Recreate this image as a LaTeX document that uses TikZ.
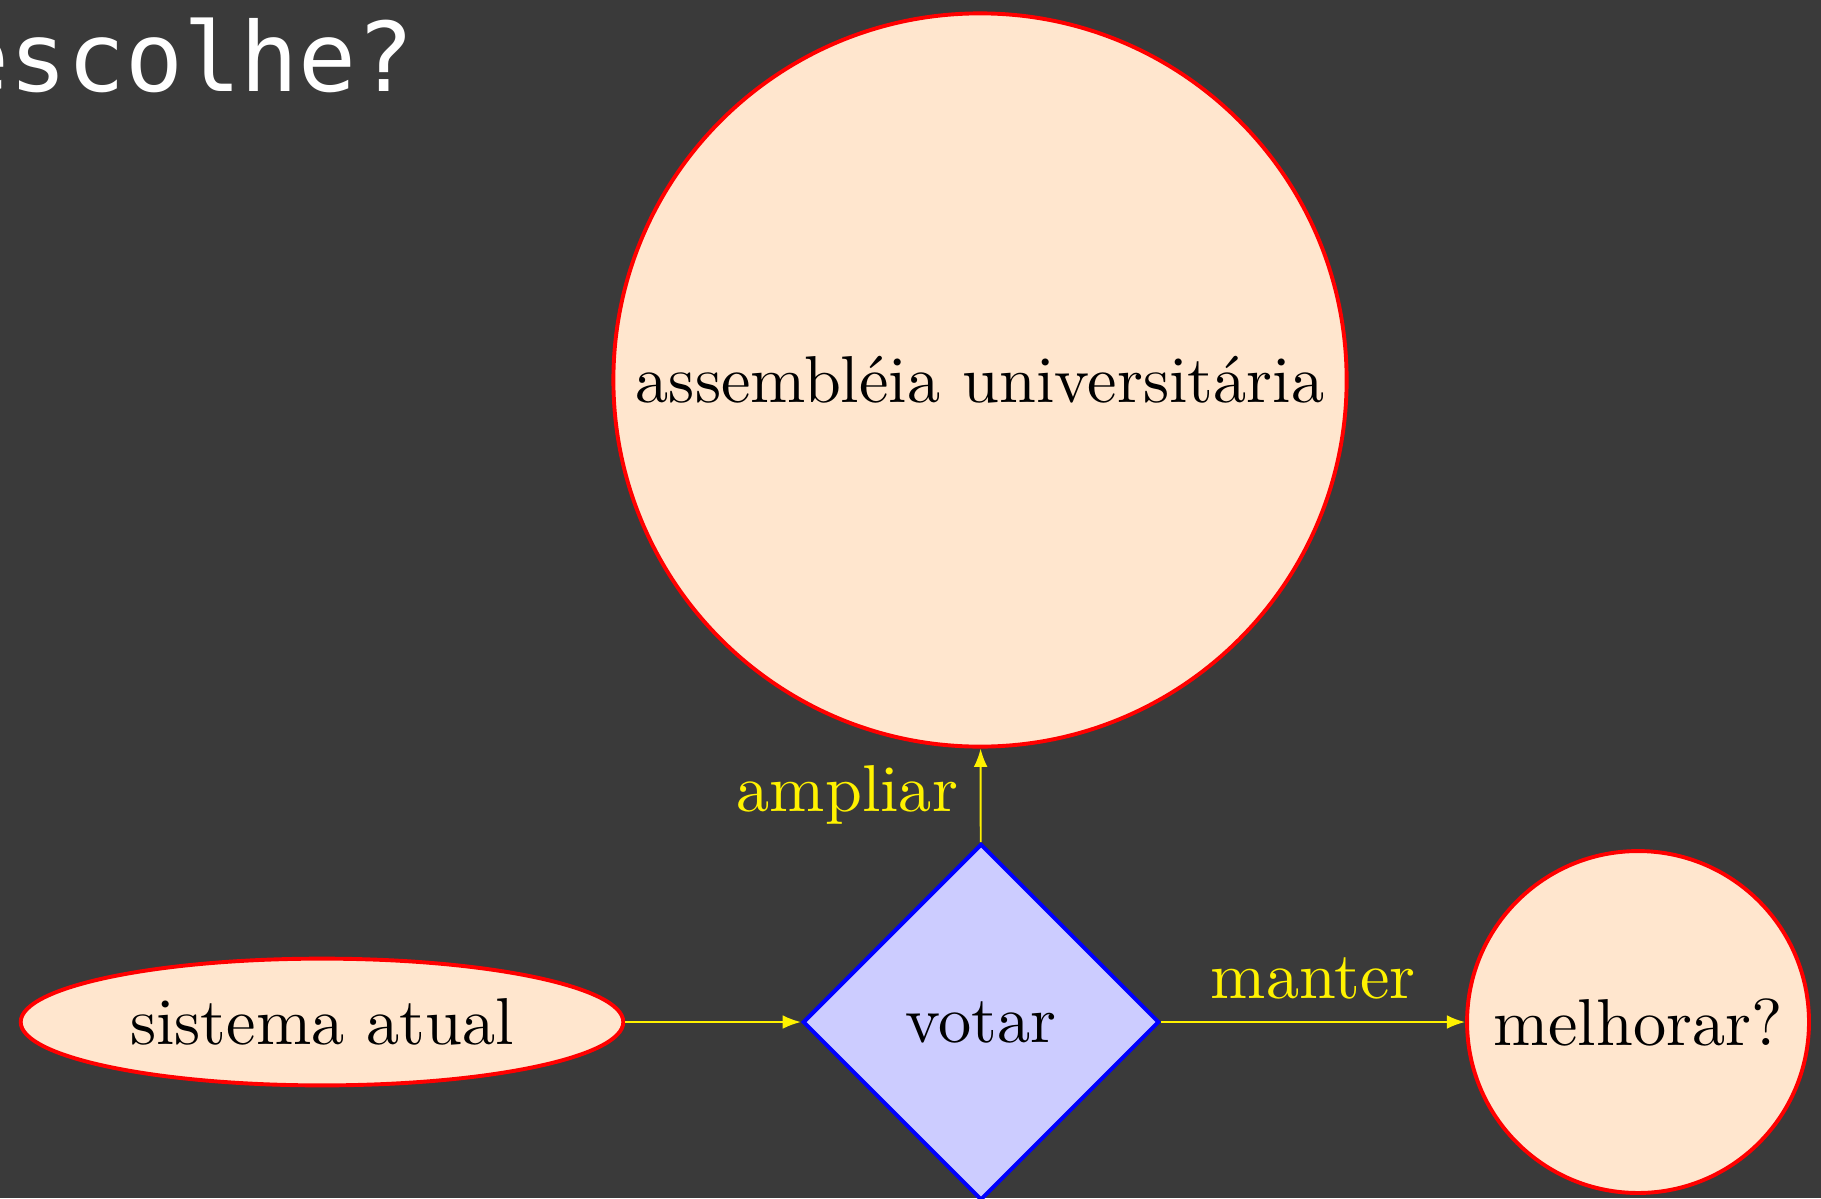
\documentclass[tikz,border=0pt]{standalone}
\usepackage{fontspec}
\newfontfamily\titlemono{DejaVu Sans Mono}
\usetikzlibrary{shapes.geometric,arrows.meta}
\definecolor{bgslate}{RGB}{58,58,58}
\definecolor{peach}{RGB}{255,230,206}
\definecolor{lavender}{RGB}{204,204,255}
\tikzset{
  px/.style={x={(0.153846pt,0)},y={(0,-0.153846pt)}},
  every node/.style={font=\fontsize{10.2}{12}\selectfont},
  rednode/.style={draw=red,fill=peach,line width=0.6pt,inner sep=0pt},
  bluediam/.style={diamond,draw=blue,fill=lavender,line width=0.6pt,inner sep=0pt,minimum size=54.8pt},
  yarrow/.style={draw=yellow,line width=0.3pt,-{Latex[length=2.8pt,width=2.1pt]}},
  ylabel/.style={text=yellow}
}
\begin{document}
\begin{tikzpicture}[px]
\fill[bgslate] (0,0) rectangle (1821,1198);
\useasboundingbox (0,0) rectangle (1821,1198);
\node[anchor=base east,inner sep=0pt,text=white,font=\titlemono\fontsize{14.8}{16}\selectfont] (title) at (416,92) {escolhe?};
\node[rednode,circle,minimum size=112.8pt] (assem) at (980,380) {assembléia universitária};
\node[rednode,ellipse,minimum width=92.7pt,minimum height=19.5pt] (sist) at (322,1022) {sistema atual};
\node[bluediam] (votar) at (981,1022) {votar};
\node[rednode,circle,minimum size=52.6pt] (melh) at (1638,1022) {melhorar?};
\draw[yarrow] (sist) -- (votar);
\draw[yarrow] (votar) -- node[ylabel,above] {manter} (melh);
\draw[yarrow] (votar) -- node[ylabel,left] {ampliar} (assem);
\end{tikzpicture}
\end{document}
